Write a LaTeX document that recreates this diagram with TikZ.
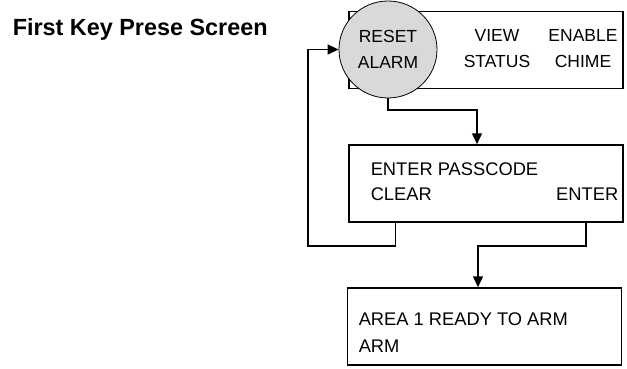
\documentclass[tikz,border=0pt]{standalone}
\usepackage{fontspec}
\setsansfont{Liberation Sans}
\usetikzlibrary{positioning}
\usetikzlibrary{arrows.meta}
\usetikzlibrary{shapes.geometric}

\begin{document}
\begin{tikzpicture}[x=1pt, y=-1pt, >={Triangle[length=11pt,width=10pt]}, line width=1.5pt, draw=black, font=\sffamily]
    \tikzstyle{screen}=[draw=black,rectangle,fill=none,minimum width=274pt,minimum height=77pt,inner sep=0pt]
    \tikzstyle{key}=[draw=black,ellipse,fill=black!15,line width=0.8pt,minimum width=98pt,minimum height=97pt,inner sep=0pt]
    \tikzstyle{txt}=[inner sep=0pt,font=\sffamily\fontsize{18.3}{22}\selectfont]
    \tikzstyle{softkey}=[inner sep=0pt,align=center,font=\sffamily\fontsize{17.5}{26}\selectfont]

    \useasboundingbox (0,0) rectangle (627,369);

    \node[anchor=west, inner sep=0pt, font=\sffamily\bfseries\fontsize{23.4}{28}\selectfont] (title) at (12,29) {First Key Prese Screen};

    \node[screen] (menu) at (486,50) {};
    \node[screen] (passcode) at (486,183.5) {};
    \node[screen] (ready) at (484.5,326.5) {};
    \node[key, softkey] (reset) at (388,49.5) {RESET\\ALARM};
    \node[softkey] (view) at (497,49) {VIEW\\STATUS};
    \node[softkey] (chime) at (583,49) {ENABLE\\CHIME};

    \node[txt, anchor=west] (prompt) at (370,169) {ENTER PASSCODE};
    \node[txt, anchor=west] (clear) at (370,194) {CLEAR};
    \node[txt, anchor=east] (enter) at (619,194) {ENTER};
    \node[txt, anchor=west] (area) at (358,319) {AREA 1 READY TO ARM};
    \node[txt, anchor=west] (arm) at (358,346) {ARM};

    \coordinate (split) at (477,110);
    \coordinate (loop) at (308,246);
    \coordinate (join) at (478,246);

    \draw[->] (reset.south) |- (split) -- (split |- passcode.north);
    \draw[->] ([xshift=47pt]passcode.south west) |- (loop) |- (reset.west);
    \draw[->] ([xshift=-38pt]passcode.south east) |- (join) -- (join |- ready.north);

\end{tikzpicture}
\end{document}
